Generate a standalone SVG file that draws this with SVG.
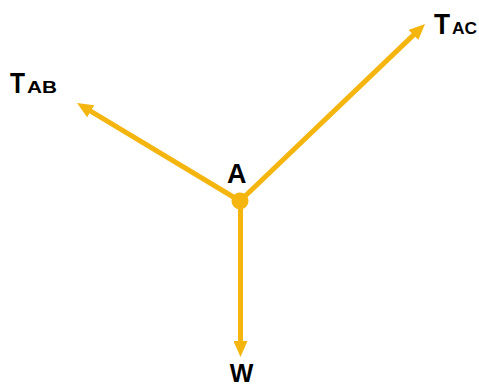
<svg xmlns="http://www.w3.org/2000/svg" width="479" height="389" viewBox="0 0 479 389">
  <style>
    .force { stroke: #F4B50F; stroke-width: 5; fill: none; marker-end: url(#arrow); }
    .lbl { font-family: "Liberation Sans", Arial, sans-serif; font-weight: bold; fill: #000; }
  </style>
  <defs>
    <marker id="arrow" viewBox="0 0 16 14" refX="6" refY="7" markerWidth="16" markerHeight="14" markerUnits="userSpaceOnUse" orient="auto">
      <path d="M0,0 L16,7 L0,14 Z" fill="#F4B50F"/>
    </marker>
  </defs>
  <rect width="479" height="389" fill="#fff"/>
  <g id="connectors">
    <line class="force" x1="240" y1="201" x2="85.6" y2="108.2"/>
    <line class="force" x1="240" y1="201" x2="417.8" y2="30.9"/>
    <line class="force" x1="240.5" y1="201" x2="240.5" y2="347"/>
  </g>
  <g id="node-A">
    <circle cx="240" cy="201" r="8.5" fill="#F4B50F"/>
    <text class="lbl" x="227" y="183" font-size="27">A</text>
  </g>
  <g id="label-TAB">
    <text class="lbl" x="10" y="93" font-size="29" textLength="15" lengthAdjust="spacingAndGlyphs">T</text>
    <text class="lbl" x="27" y="93" font-size="16" textLength="30" lengthAdjust="spacingAndGlyphs">AB</text>
  </g>
  <g id="label-TAC">
    <text class="lbl" x="434" y="34" font-size="29" textLength="16" lengthAdjust="spacingAndGlyphs">T</text>
    <text class="lbl" x="452" y="34" font-size="16" textLength="25" lengthAdjust="spacingAndGlyphs">AC</text>
  </g>
  <g id="label-W">
    <text class="lbl" x="241.5" y="382" font-size="25" text-anchor="middle">W</text>
  </g>
</svg>
